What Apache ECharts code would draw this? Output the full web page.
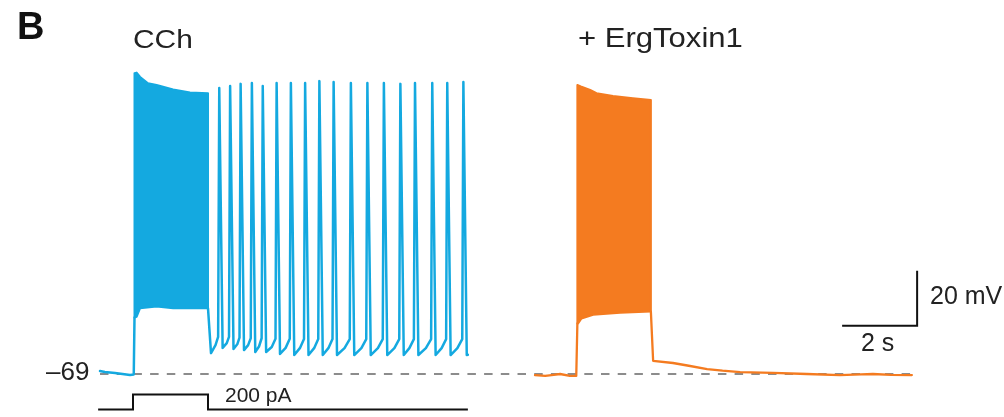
<!DOCTYPE html>
<html>
<head>
<meta charset="utf-8">
<script src="https://cdn.jsdelivr.net/npm/echarts@6/dist/echarts.min.js"></script>
<style>
html,body{margin:0;padding:0;background:#fff;}
#chart{width:1004px;height:417px;}
</style>
</head>
<body>
<div id="chart"></div>
<script>
// ---- data (time in s, membrane potential in mV, current in pA) ----
var restingPotential = -69;
var baselineSpan = [0, 21.65];

// CCh (blue) trace: rest, step onset into burst
var cchPre = [[0,-67.9],[0.13,-68.3],[0.4,-68.6],[0.8,-69.4],[0.9,-69.2],[0.92,-48.5]];
// CCh burst envelope (dense firing during 200 pA step)
var cchBurstTop = [[0.92,40.4],[0.976,40.6],[1.07,39.0],[1.28,36.7],[1.51,36.1],[1.95,34.5],[2.4,33.4],[2.88,33.1]];
var cchBurstBottom = [[0.92,-48.5],[0.976,-48.2],[1.067,-45.1],[1.51,-44.5],[1.95,-45.1],[2.4,-45.1],[2.88,-45.1]];
// CCh tonic firing after the step
var cchTonic = [[2.88,-45.1],[2.96,-61.4],[3.08,-58.5],[3.15,-55.5],[3.18,35.0],[3.27,-59.5],[3.38,-57.8],[3.44,-55.5],
  [3.47,35.7],[3.56,-59.9],[3.66,-58.2],[3.72,-55.8],[3.75,36.5],[3.84,-60.3],[3.95,-58.5],[4.02,-56.0],
  [4.05,36.8],[4.14,-61.0],[4.24,-59.0],[4.31,-56.0],[4.34,35.7],[4.43,-61.0],[4.58,-59.2],[4.68,-56.2],
  [4.71,36.8],[4.80,-61.7],[4.95,-59.5],[5.06,-56.2],[5.09,36.8],[5.18,-62.1],[5.33,-59.6],[5.44,-56.3],
  [5.47,36.8],[5.56,-62.1],[5.71,-59.6],[5.82,-56.3],[5.85,37.5],[5.94,-62.1],[6.09,-59.6],[6.20,-56.3],
  [6.23,37.2],[6.32,-62.1],[6.52,-59.6],[6.66,-56.3],[6.69,36.8],[6.78,-62.1],[6.97,-59.6],[7.10,-56.3],
  [7.13,36.8],[7.22,-62.1],[7.41,-59.6],[7.54,-56.3],[7.57,36.8],[7.66,-62.1],[7.85,-59.6],[7.98,-56.3],
  [8.01,36.5],[8.10,-62.1],[8.25,-59.6],[8.37,-56.3],[8.40,36.8],[8.49,-62.1],[8.69,-59.6],[8.83,-56.3],
  [8.86,36.8],[8.95,-62.1],[9.11,-59.6],[9.23,-56.3],[9.26,36.8],[9.35,-62.1],[9.53,-59.6],[9.66,-56.3],
  [9.69,37.2],[9.78,-62.1],[9.81,-62.0]];

// + ErgToxin1 (orange) trace
var ergPre = [[11.6,-69.4],[11.87,-69.7],[12.1,-69.3],[12.27,-69.0],[12.53,-69.7],[12.70,-69.7],[12.73,-50.6]];
var ergBurstTop = [[12.73,36.1],[12.82,35.6],[13.07,34.3],[13.24,33.1],[13.68,32.1],[14.21,31.3],[14.69,30.6]];
var ergBurstBottom = [[12.73,-50.6],[12.75,-50.6],[12.84,-48.8],[13.15,-47.5],[13.87,-46.7],[14.69,-46.3]];
var ergPost = [[14.69,-46.3],[14.75,-64.2],[15.28,-65.0],[15.7,-66.0],[16.19,-67.2],[16.6,-67.8],[17.07,-68.3],
  [17.95,-68.6],[18.85,-69.0],[19.73,-69.4],[20.3,-69.1],[20.61,-69.0],[21.1,-69.3],[21.65,-69.4]];

// injected current (pA)
var currentStep = [[-0.05,0],[0.88,0],[0.88,200],[2.88,200],[2.88,0],[9.81,0]];

// scale bars: 2 s and 20 mV
var scaleBar = [[19.79,-51.44],[21.79,-51.44],[21.79,-31.44]];

var labels = {panel:'B', cond1:'CCh', cond2:'+ ErgToxin1', rest:'\u201369', current:'200 pA', vBar:'20 mV', tBar:'2 s'};

var BLUE = '#14a9e0', ORANGE = '#f47b20', FONT = '"Liberation Sans", Arial, sans-serif';

function bandSeries(top, bottom, color){
  return {
    type:'custom', xAxisIndex:0, yAxisIndex:0, z:3,
    data:[top[0]],
    renderItem:function(params, api){
      var pts = [];
      for (var i=0;i<top.length;i++) pts.push(api.coord(top[i]));
      for (var j=bottom.length-1;j>=0;j--) pts.push(api.coord(bottom[j]));
      return {type:'polygon', shape:{points:pts}, style:{fill:color, stroke:color, lineWidth:2, lineJoin:'round'}};
    }
  };
}
function traceSeries(data, color, w, z){
  return {type:'line', xAxisIndex:0, yAxisIndex:0, data:data, symbol:'none', z:z||4,
    lineStyle:{color:color, width:w, join:'round', cap:'round'}};
}

var chart = echarts.init(document.getElementById('chart'), null, {renderer:'canvas'});
chart.setOption({
  animation:false,
  backgroundColor:'#ffffff',
  grid:[
    {left:62.5, width:937.5, top:46.75, height:357.5},
    {left:62.5, width:937.5, top:390.75, height:29.75}
  ],
  xAxis:[
    {type:'value', gridIndex:0, min:-1, max:24, show:false},
    {type:'value', gridIndex:1, min:-1, max:24, show:false}
  ],
  yAxis:[
    {type:'value', gridIndex:0, min:-80, max:50, show:false},
    {type:'value', gridIndex:1, min:-100, max:250, show:false}
  ],
  series:[
    {type:'line', xAxisIndex:0, yAxisIndex:0, symbol:'none', z:1,
     data:[[baselineSpan[0],restingPotential],[baselineSpan[1],restingPotential]],
     lineStyle:{color:'#8c8c8c', width:2, type:[8.5,8.2]}},
    traceSeries(cchPre, BLUE, 2.5),
    bandSeries(cchBurstTop, cchBurstBottom, BLUE),
    traceSeries(cchTonic, BLUE, 2.5),
    traceSeries(ergPre, ORANGE, 2.3),
    bandSeries(ergBurstTop, ergBurstBottom, ORANGE),
    traceSeries(ergPost, ORANGE, 2.3),
    {type:'line', xAxisIndex:1, yAxisIndex:1, data:currentStep, symbol:'none', clip:false,
     lineStyle:{color:'#111', width:2, join:'miter'}},
    {type:'line', xAxisIndex:0, yAxisIndex:0, data:scaleBar, symbol:'none', clip:false,
     lineStyle:{color:'#111', width:2, join:'miter'}}
  ],
  graphic:[
    {type:'text', x:17, y:29, style:{text:labels.panel, font:'bold 38px '+FONT, fill:'#111', verticalAlign:'middle'}},
    {type:'text', x:133, y:41, scaleX:1.15, style:{text:labels.cond1, font:'26px '+FONT, fill:'#222', verticalAlign:'middle'}},
    {type:'text', x:578, y:40, scaleX:1.15, style:{text:labels.cond2, font:'27px '+FONT, fill:'#222', verticalAlign:'middle'}},
    {type:'text', x:46, y:373, style:{text:labels.rest, font:'26px '+FONT, fill:'#222', verticalAlign:'middle'}},
    {type:'text', x:225, y:396, style:{text:labels.current, font:'21px '+FONT, fill:'#222', verticalAlign:'middle'}},
    {type:'text', x:930, y:297, style:{text:labels.vBar, font:'25px '+FONT, fill:'#222', verticalAlign:'middle'}},
    {type:'text', x:861, y:344, style:{text:labels.tBar, font:'25px '+FONT, fill:'#222', verticalAlign:'middle'}}
  ]
});
</script>
</body>
</html>
